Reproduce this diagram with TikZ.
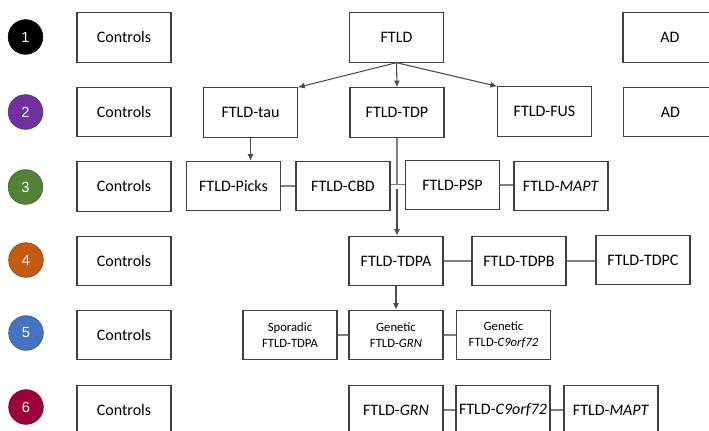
\documentclass[tikz,border=0pt]{standalone}
\usepackage{fontspec}
\setmainfont{Carlito}
\newfontfamily\numfont{Liberation Sans}
\usetikzlibrary{arrows.meta}
\definecolor{boxline}{HTML}{404040}
\definecolor{conline}{HTML}{7F7F7F}
\definecolor{cone}{HTML}{000000}
\definecolor{ctwo}{HTML}{7030A0}
\definecolor{cthree}{HTML}{548235}
\definecolor{cfour}{HTML}{C55A11}
\definecolor{cfive}{HTML}{4472C4}
\definecolor{csix}{HTML}{A0003A}
\tikzset{
  box/.style={draw=boxline, line width=0.8pt, minimum width=70.5pt, minimum height=37pt, inner sep=0pt, align=center, font=\fontsize{12}{14}\selectfont, fill=white},
  smallbox/.style={box, font=\fontsize{9.5}{12.5}\selectfont},
  num/.style={circle, minimum size=26pt, inner sep=0pt, text=white, font=\numfont\fontsize{11}{13}\selectfont},
  conn/.style={draw=conline, line width=0.8pt},
  arr/.style={draw=black!70, line width=0.8pt, -{Latex[length=5pt,width=4.5pt]}}
}
\begin{document}
\begin{tikzpicture}[x=0.75pt, y=-0.75pt]
\clip (0,0) rectangle (709,431);
\fill[white] (0,0) rectangle (709,431);
% number circles
\node[num, fill=cone, draw=black] (n1) at (25.5,37) {1};
\node[num, fill=ctwo, draw=ctwo!70!black] (n2) at (25.5,112) {2};
\node[num, fill=cthree, draw=cthree!70!black] (n3) at (25.5,187) {3};
\node[num, fill=cfour, draw=cfour!70!black] (n4) at (26,260) {4};
\node[num, fill=cfive, draw=cfive!70!black] (n5) at (26,333) {5};
\node[num, fill=csix, draw=csix!70!black] (n6) at (26,407) {6};
% controls
\node[box] (c1) at (124,37.5) {Controls};
\node[box] (c2) at (124,112) {Controls};
\node[box] (c3) at (124,186.5) {Controls};
\node[box] (c4) at (124,261) {Controls};
\node[box] (c5) at (124,335) {Controls};
\node[box] (c6) at (124,410) {Controls};
% row 1
\node[box] (ftld) at (396.5,37.5) {FTLD};
\node[box] (ad1) at (670,37.5) {AD};
% row 2
\node[box] (tau) at (250.5,112.5) {FTLD-tau};
\node[box] (tdp) at (397,112.5) {FTLD-TDP};
\node[box] (fus) at (544.5,111.5) {FTLD-FUS};
\node[box] (ad2) at (670.5,112) {AD};
% row 3
\node[box] (picks) at (233.5,186) {FTLD-Picks};
\node[box] (cbd) at (343,186) {FTLD-CBD};
\node[box] (psp) at (452.5,185) {FTLD-PSP};
\node[box] (mapt3) at (561,186) {FTLD-\textit{MAPT}};
% row 4
\node[box] (tdpa) at (396,261) {FTLD-TDPA};
\node[box] (tdpb) at (519,261) {FTLD-TDPB};
\node[box] (tdpc) at (643,260) {FTLD-TDPC};
% row 5
\node[smallbox] (spor) at (290,335) {Sporadic\\FTLD-TDPA};
\node[smallbox] (ggrn) at (396,335) {Genetic\\FTLD-\textit{GRN}};
\node[smallbox] (gc9) at (503.5,335) {Genetic\\FTLD-\textit{C9orf72}};
% row 6
\node[box] (grn) at (396,410) {FTLD-\textit{GRN}};
\node[box] (c9) at (503,410) {FTLD-\textit{C9orf72}};
\node[box] (mapt6) at (611,410) {FTLD-\textit{MAPT}};
% arrows from FTLD
\draw[arr] (ftld.south) -- (tau.north east);
\draw[arr] (ftld.south) -- (tdp.north);
\draw[arr] (ftld.south) -- (fus.north west);
\draw[arr] (tau.south) -- (tau.south |- picks.north);
% row 3 connectors
\draw[conn] (picks.east) -- (cbd.west);
\coordinate (cross) at (397,184.5);
\draw[conn] (cbd.east |- cross) -- (psp.west |- cross);
\draw[conn] (psp.east) -- (mapt3.west |- psp.east);
\draw[conn] (tdp.south -| cross) -- (cross);
\coordinate (below) at (397,188.5);
\draw[arr] (below) -- (below |- tdpa.north);
% row 4
\draw[conn] (tdpa.east) -- (tdpb.west);
\draw[conn] (tdpb.east) -- (tdpc.west |- tdpb.east);
\draw[arr] (tdpa.south) -- (ggrn.north);
% row 5
\draw[conn] (spor.east) -- (ggrn.west);
\draw[conn] (ggrn.east) -- (gc9.west);
% row 6
\draw[conn] (grn.east) -- (c9.west);
\draw[conn] (c9.east) -- (mapt6.west);
\end{tikzpicture}
\end{document}
